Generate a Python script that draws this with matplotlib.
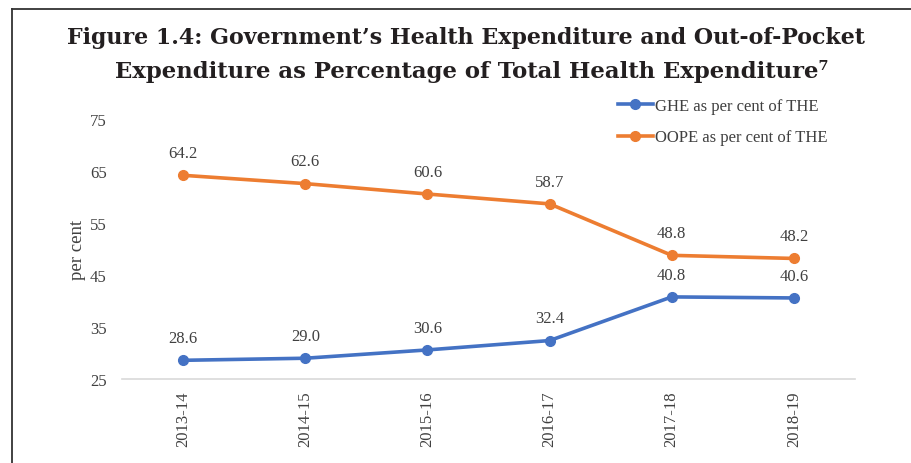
import matplotlib
matplotlib.use("Agg")
import matplotlib.pyplot as plt
from matplotlib.lines import Line2D

years = ["2013-14", "2014-15", "2015-16", "2016-17", "2017-18", "2018-19"]
ghe_share = [28.6, 29.0, 30.6, 32.4, 40.8, 40.6]
oope_share = [64.2, 62.6, 60.6, 58.7, 48.8, 48.2]
y_ticks = [25, 35, 45, 55, 65, 75]

blue = "#4472C4"
orange = "#ED7D31"
grey_txt = "#404040"
serif = ["Liberation Serif", "DejaVu Serif"]

fig = plt.figure(figsize=(9.11, 4.64), dpi=100)
ax = fig.add_axes([0.134, 0.181, 0.8045, 0.560])

x = list(range(len(years)))
l1, = ax.plot(x, ghe_share, color=blue, lw=2.6, marker="o", ms=7,
              label="GHE as per cent of THE")
l2, = ax.plot(x, oope_share, color=orange, lw=2.6, marker="o", ms=7,
              label="OOPE as per cent of THE")

# value labels above each point
for xi, v in zip(x, ghe_share):
    ax.annotate(f"{v:.1f}", (xi, v), xytext=(0, 16), textcoords="offset points",
                ha="center", va="center", fontsize=12, color=grey_txt,
                family=serif)
for xi, v in zip(x, oope_share):
    ax.annotate(f"{v:.1f}", (xi, v), xytext=(0, 16), textcoords="offset points",
                ha="center", va="center", fontsize=12, color=grey_txt,
                family=serif)

ax.set_xlim(-0.5, len(years) - 0.5)
ax.set_ylim(25, 75)
ax.set_yticks(y_ticks)
ax.set_xticks(x)
ax.set_xticklabels(years, rotation=90, family=serif, fontsize=12, color=grey_txt)
ax.set_yticklabels([str(t) for t in y_ticks], family=serif, fontsize=12, color=grey_txt)
ax.tick_params(axis="y", length=0, pad=11)
ax.tick_params(axis="x", length=0, pad=8)
for s in ["top", "right", "left"]:
    ax.spines[s].set_visible(False)
ax.spines["bottom"].set_color("#d9d9d9")
ax.spines["bottom"].set_linewidth(1.2)
ax.set_ylabel("per cent", family=serif, fontsize=13.5, color=grey_txt, labelpad=3)

fig.legend(handles=[l1, l2], loc="upper left", bbox_to_anchor=(0.671, 0.802),
           frameon=False, prop={"family": serif, "size": 12}, labelcolor=grey_txt,
           handlelength=2.1, handletextpad=0.1, labelspacing=0.95, borderaxespad=0)

fig.text(0.511, 0.918, "Figure 1.4: Government\u2019s Health Expenditure and Out-of-Pocket",
         ha="center", va="center", family="DejaVu Serif", weight="bold",
         fontsize=15.9, color="#231f20")
fig.text(0.518, 0.845, "Expenditure as Percentage of Total Health Expenditure\u2077",
         ha="center", va="center", family="DejaVu Serif", weight="bold",
         fontsize=16.4, color="#231f20")

# frame lines at the top and left edge
fig.add_artist(Line2D([0.013, 1.0], [0.978, 0.978], color="#333333", lw=1.3))
fig.add_artist(Line2D([0.013, 0.013], [0.0, 0.978], color="#333333", lw=1.3))

fig.savefig("out.png", dpi=100)
